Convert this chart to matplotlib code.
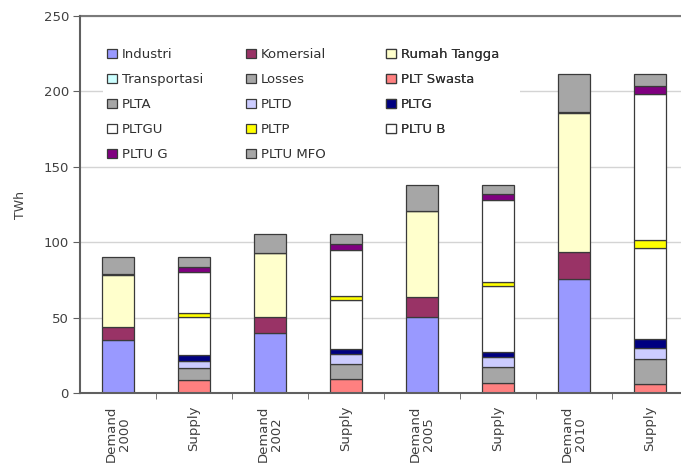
import numpy as np
import matplotlib
matplotlib.use("Agg")
import matplotlib.pyplot as plt
from matplotlib.patches import Rectangle

# categories on the x axis
categories = ["Demand\n2000", "Supply", "Demand\n2002", "Supply",
              "Demand\n2005", "Supply", "Demand\n2010", "Supply"]

# demand side (TWh), only on the "Demand" columns
industri     = [35.0, 0, 40.0, 0, 50.7, 0, 76.0, 0]
komersial    = [9.0, 0, 10.3, 0, 13.2, 0, 17.4, 0]
rumah_tangga = [34.5, 0, 42.5, 0, 56.7, 0, 92.5, 0]
transportasi = [0.3, 0, 0.3, 0, 0.3, 0, 0.3, 0]
losses       = [11.2, 0, 12.3, 0, 16.9, 0, 25.0, 0]

# supply side (TWh), only on the "Supply" columns
plt_swasta = [0, 8.8, 0, 9.7, 0, 7.0, 0, 6.2]
plta       = [0, 7.7, 0, 9.7, 0, 10.6, 0, 16.5]
pltd       = [0, 5.1, 0, 6.4, 0, 6.6, 0, 7.1]
pltg       = [0, 3.7, 0, 3.3, 0, 2.9, 0, 6.3]
pltgu      = [0, 25.0, 0, 32.6, 0, 43.9, 0, 59.8]
pltp       = [0, 2.6, 0, 2.7, 0, 2.8, 0, 5.9]
pltu_b     = [0, 27.5, 0, 30.4, 0, 54.0, 0, 96.6]
pltu_g     = [0, 3.3, 0, 4.4, 0, 4.0, 0, 4.8]
pltu_mfo   = [0, 6.3, 0, 6.2, 0, 6.0, 0, 8.0]

series = [
    ("Industri", industri, "#9999FF"),
    ("Komersial", komersial, "#993366"),
    ("Rumah Tangga", rumah_tangga, "#FFFFCC"),
    ("Transportasi", transportasi, "#CCFFFF"),
    ("Losses", losses, "#A6A6A6"),
    ("PLT Swasta", plt_swasta, "#FF8080"),
    ("PLTA", plta, "#A6A6A6"),
    ("PLTD", pltd, "#CCCCFF"),
    ("PLTG", pltg, "#000080"),
    ("PLTGU", pltgu, "#FFFFFF"),
    ("PLTP", pltp, "#FFFF00"),
    ("PLTU B", pltu_b, "#FFFFFF"),
    ("PLTU G", pltu_g, "#800080"),
    ("PLTU MFO", pltu_mfo, "#A6A6A6"),
]

W, H = 681, 472
fig = plt.figure(figsize=(W / 100, H / 100), dpi=100)
# plot area runs a little past the right edge of the image
ax = fig.add_axes([80 / W, (H - 393.3) / H, 608 / W, 377.5 / H])

x = np.arange(len(categories))
bottom = np.zeros(len(categories))
handles = {}
for name, vals, col in series:
    vals = np.array(vals, dtype=float)
    keep = vals > 0  # skip empty segments so they leave no edge line
    b = ax.bar(x[keep], vals[keep], 0.42, bottom=bottom[keep], color=col,
               edgecolor="#3a3a3a", linewidth=0.9, zorder=3, label=name)
    handles[name] = b
    bottom += vals

ax.set_xlim(-0.5, len(categories) - 0.5)
ax.set_ylim(0, 250)
ax.set_yticks([0, 50, 100, 150, 200, 250])
ax.set_xticks(x)
ax.set_xticklabels(categories, rotation=90, ha="center", va="top",
                   fontsize=9.5, color="#404040", linespacing=1.0)
ax.set_xticks(np.arange(0.5, len(categories) - 0.5, 1), minor=True)
ax.tick_params(axis="x", which="major", length=0, pad=9)
ax.tick_params(axis="x", which="minor", length=4, color="#606060", direction="out")
ax.tick_params(axis="y", length=5, color="#606060", labelsize=9.5,
               labelcolor="#404040", pad=3)

ax.yaxis.grid(True, color="#d4d4d4", linewidth=1.0, zorder=0)
ax.set_axisbelow(True)
for s in ["left", "bottom"]:
    ax.spines[s].set_color("#606060")
    ax.spines[s].set_linewidth(1.5)
    ax.spines[s].set_zorder(4)
ax.spines["top"].set_color("#7a7a7a")
ax.spines["top"].set_linewidth(1.5)
ax.spines["right"].set_visible(False)

ax.set_ylabel("TWh", fontsize=9, color="#404040", labelpad=12)

# white block behind the legend hides the gridlines there
def px(xp, yp):
    return (xp - 80) / 608, (393.3 - yp) / 377.5

x0, y0 = px(103, 164)
x1, y1 = px(520, 38)
ax.add_patch(Rectangle((x0, y0), x1 - x0, y1 - y0, transform=ax.transAxes,
                       facecolor="white", edgecolor="none", zorder=2))

# legend laid out in three columns, filled row by row
columns = [
    ["Industri", "Transportasi", "PLTA", "PLTGU", "PLTU G"],
    ["Komersial", "Losses", "PLTD", "PLTP", "PLTU MFO"],
    ["Rumah Tangga", "PLT Swasta", "PLTG", "PLTU B"],
]
col_x = [107, 246, 386]
for cx, names in zip(col_x, columns):
    lx, ly = px(cx, 48)
    leg = ax.legend([handles[n] for n in names], names, loc="upper left",
                    bbox_to_anchor=(lx, ly), frameon=False, borderpad=0,
                    borderaxespad=0, fontsize=9.5, handlelength=0.75,
                    handleheight=0.75, handletextpad=0.35, labelspacing=0.91,
                    labelcolor="#303030")
    leg.set_zorder(5)
    ax.add_artist(leg)

fig.savefig("out.png", dpi=100)
